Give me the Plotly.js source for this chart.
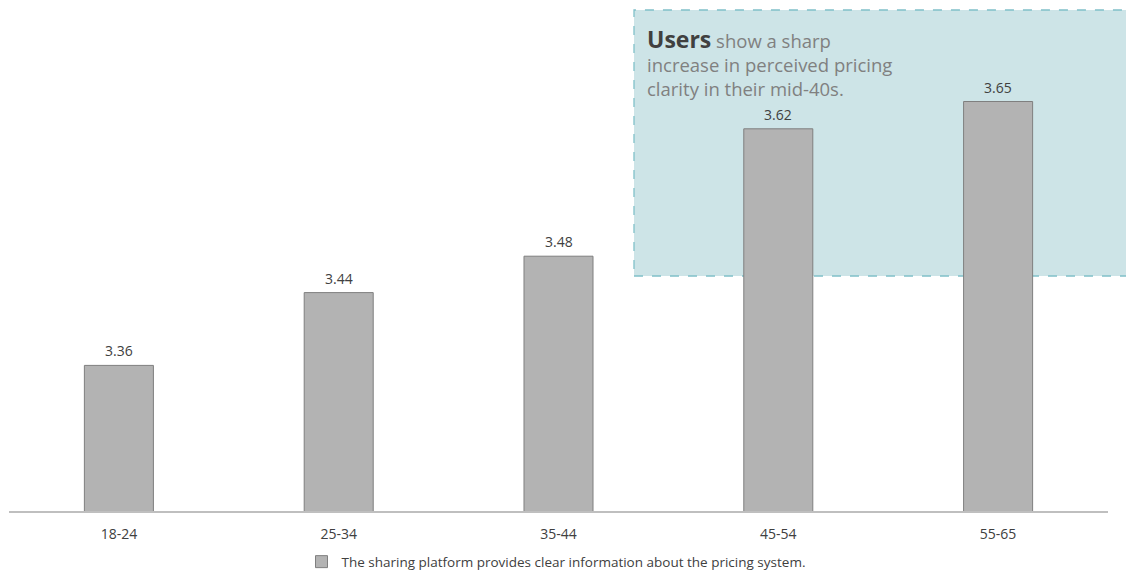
<!DOCTYPE html>
<html>
<head>
<meta charset="utf-8">
<script src="https://cdn.plot.ly/plotly-3.0.1.min.js"></script>
<style>html,body{margin:0;padding:0;background:#fff;}#chart{width:1126px;height:571px;}</style>
</head>
<body>
<div id="chart"></div>
<script>
const categories = ["18-24", "25-34", "35-44", "45-54", "55-65"];
const values = [3.36, 3.44, 3.48, 3.62, 3.65];
const valueLabels = ["3.36", "3.44", "3.48", "3.62", "3.65"];
const seriesName = "The sharing platform provides clear information about the pricing system.";
const noteBold = "Users";
const noteLines = [" show a sharp", "increase in perceived pricing", "clarity in their mid-40s."];

const FONT = "'Open Sans', 'Noto Sans', sans-serif";

const trace = {
  type: "bar",
  x: categories,
  y: values,
  name: seriesName,
  marker: {color: "#b3b3b3", line: {color: "#7f7f7f", width: 1}},
  hoverinfo: "x+y"
};

const valueAnnotations = categories.map((c, i) => ({
  x: c,
  y: values[i],
  xref: "x",
  yref: "y",
  text: valueLabels[i],
  showarrow: false,
  xanchor: "center",
  yanchor: "bottom",
  yshift: 3,
  font: {family: FONT, size: 14, color: "#404040"}
}));

const noteAnnotation = {
  xref: "paper",
  yref: "paper",
  x: (645 - 9) / 1099,
  y: (511 - 21) / 455,
  xanchor: "left",
  yanchor: "top",
  align: "left",
  showarrow: false,
  font: {family: FONT, size: 18.5, color: "#808080"},
  text: "<span style='font-size:23px;color:#404040'><b>" + noteBold + "</b></span>" + noteLines.join("<br>")
};

const layout = {
  width: 1126,
  height: 571,
  margin: {l: 9, r: 18, t: 56, b: 60},
  paper_bgcolor: "#ffffff",
  plot_bgcolor: "rgba(0,0,0,0)",
  bargap: 0.686,
  showlegend: true,
  font: {family: FONT, color: "#404040", size: 12},
  xaxis: {
    type: "category",
    showgrid: false,
    showline: true,
    linecolor: "#bfbfbf",
    linewidth: 1.5,
    ticks: "",
    ticklabelstandoff: 9,
    tickfont: {family: FONT, size: 14, color: "#404040"},
    zeroline: false
  },
  yaxis: {
    range: [3.2, 3.7],
    visible: false,
    showgrid: false,
    zeroline: false
  },
  legend: {
    orientation: "h",
    xref: "container",
    yref: "container",
    x: 0.5 - 7 / 1126,
    xanchor: "center",
    y: 0.016,
    yanchor: "middle",
    font: {family: FONT, size: 13.5, color: "#404040"},
    itemwidth: 30
  },
  shapes: [{
    type: "rect",
    xref: "paper",
    yref: "paper",
    x0: (634 - 9) / 1099,
    x1: 1.03,
    y0: (511 - 276) / 455,
    y1: (511 - 10) / 455,
    fillcolor: "#cde4e7",
    line: {color: "#80c0c9", width: 1.3, dash: "dash"},
    layer: "below"
  }],
  annotations: [noteAnnotation].concat(valueAnnotations)
};

Plotly.newPlot("chart", [trace], layout, {displayModeBar: false, responsive: false});
</script>
</body>
</html>
